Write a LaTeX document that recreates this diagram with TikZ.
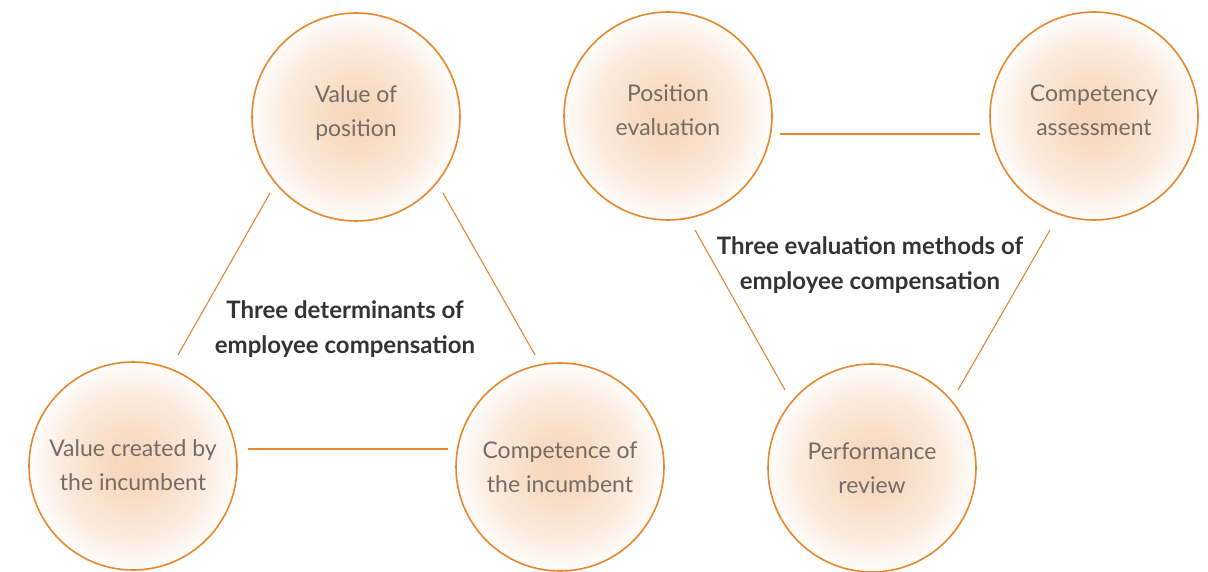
\documentclass[tikz,border=0pt]{standalone}
\usepackage{fontspec}
\setmainfont{Lato}
\definecolor{ringorange}{HTML}{E8862C}
\definecolor{peachc}{HTML}{F7D6BA}
\definecolor{txtgray}{HTML}{736C67}
\definecolor{headgray}{HTML}{333333}
\pgfdeclareradialshading{peachglow}{\pgfpoint{0bp}{0bp}}{color(0bp)=(peachc); color(6bp)=(peachc!90!white); color(17bp)=(peachc!50!white); color(26bp)=(white); color(50bp)=(white)}
\begin{document}
\begin{tikzpicture}[x=1pt,y=-1pt,
  bubble/.style={circle,draw=ringorange,line width=1.6pt,minimum size=208pt,
    shading=peachglow,align=center,text=txtgray,text depth=11pt,font=\fontsize{23}{34}\selectfont},
  link/.style={draw=ringorange,line width=1.1pt},
  heading/.style={align=center,text=headgray,font=\bfseries\fontsize{24}{35}\selectfont}]
 \useasboundingbox (0,0) rectangle (1208,572);
 \node[bubble] (vpos) at (356,117) {Value of\\position};
 \node[bubble,text depth=1pt] (vcre) at (133,466) {Value created by\\the incumbent};
 \node[bubble,text depth=-5pt] (comp) at (560,467) {Competence of\\the incumbent};
 \node[bubble] (peval) at (668,116) {Position\\evaluation};
 \node[bubble] (cass) at (1094,116) {Competency\\assessment};
 \node[bubble,text depth=-11pt] (prev) at (872,468) {Performance\\review};
 \node[heading] (detlabel) at (345,329) {Three determinants of\\employee compensation};
 \node[heading] (methlabel) at (870,265) {Three evaluation methods of\\employee compensation};
 \coordinate (a1) at (270,193); \coordinate (a2) at (178,355);
 \coordinate (b1) at (443,193); \coordinate (b2) at (535,355);
 \coordinate (c1) at (248,449); \coordinate (c2) at (448,449);
 \coordinate (d1) at (780,134); \coordinate (d2) at (980,134);
 \coordinate (e1) at (695,230); \coordinate (e2) at (785,390);
 \coordinate (f1) at (1050,230); \coordinate (f2) at (958,390);
 \draw[link] (a1) -- (a2);
 \draw[link] (b1) -- (b2);
 \draw[link] (c1) -- (c2);
 \draw[link] (d1) -- (d2);
 \draw[link] (e1) -- (e2);
 \draw[link] (f1) -- (f2);
\end{tikzpicture}
\end{document}
